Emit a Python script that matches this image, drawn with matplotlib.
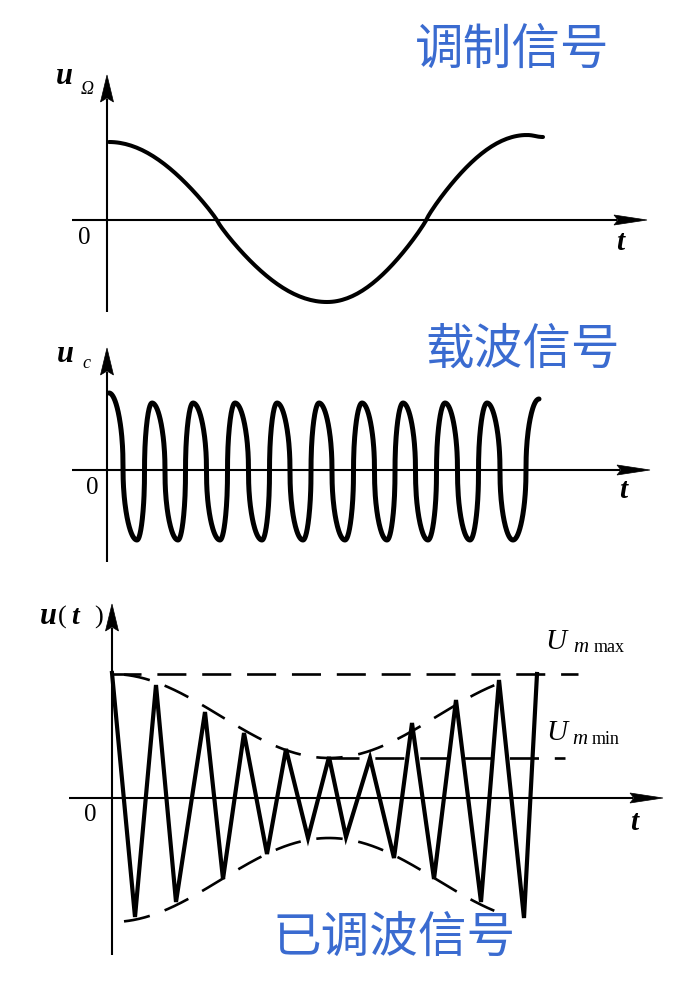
import numpy as np
import matplotlib
matplotlib.use('Agg')
import matplotlib.pyplot as plt
from matplotlib.patches import Polygon

W, H = 688, 993

# ---------------- data ----------------
# Panel 1: modulating signal, extrema (time, amplitude)
mod_t = [2, 220, 420, 436]
mod_v = [78, -82, 85, 83]

# Panel 2: carrier, extrema (time, amplitude)
car_t = [2, 30, 45, 71, 86, 113, 128, 155, 170, 196, 212, 238, 255, 280,
         296, 321, 338, 363, 380, 406, 432]
car_v = [77, -70, 67, -70, 67, -70, 67, -70, 67, -70, 67, -70, 67, -70,
         67, -70, 67, -70, 67, -70, 71]

# Panel 3: AM wave vertices (time, amplitude)
am_t = [0, 23, 44, 64, 93, 111, 132, 155, 174, 196, 217, 234, 258, 282,
        300, 322, 344, 369, 387, 412, 425]
am_v = [125, -119, 113, -104, 86, -81, 65, -56, 49, -40, 41, -39, 40, -60,
        75, -81, 98, -104, 118, -120, 124]

Um_max = 124
Um_min = 40
env_period = 434          # envelope (modulation) period
env_span = (12, 390)      # visible extent of dashed envelope
umax_span = (0, 466)
umin_span = (218, 453)

titles = ["调制信号", "载波信号", "已调波信号"]
blue = '#3a6bd0'

# ---------------- helpers ----------------
fig = plt.figure(figsize=(W / 100, H / 100), dpi=100)


def panel(x0, y0):
    ax = fig.add_axes([0, 0, 1, 1])
    ax.set_xlim(-x0, W - x0)
    ax.set_ylim(-(H - y0), y0)
    ax.axis('off')
    ax.patch.set_alpha(0)
    return ax


def smooth_path(ts, vs, p, n=80):
    xs, ys = [], []
    for i in range(len(ts) - 1):
        s = np.linspace(0, 1, n)
        c = np.cos(np.pi * s)
        g = np.sign(c) * np.abs(c) ** p
        mid = (vs[i] + vs[i + 1]) / 2
        half = (vs[i] - vs[i + 1]) / 2
        xs.append(ts[i] + (ts[i + 1] - ts[i]) * s)
        ys.append(mid + half * g)
    return np.concatenate(xs), np.concatenate(ys)


def axes_arrows(ax, xl, xr, yb, yt, hlx=33, hwx=10, hly=27, hwy=13, lw=1.5):
    ax.plot([xl, xr - hlx + 3], [0, 0], color='k', lw=lw, solid_capstyle='butt')
    ax.add_patch(Polygon([[xr, 0], [xr - hlx, hwx / 2], [xr - hlx + 4, 0],
                          [xr - hlx, -hwx / 2]], closed=True, fc='k', ec='k', lw=0.5))
    ax.plot([0, 0], [yb, yt - hly + 3], color='k', lw=lw, solid_capstyle='butt')
    ax.add_patch(Polygon([[0, yt], [-hwy / 2, yt - hly], [0, yt - hly + 4],
                          [hwy / 2, yt - hly]], closed=True, fc='k', ec='k', lw=0.5))


serif = 'Liberation Serif'
cjk = ['Noto Sans CJK SC', 'DejaVu Sans']


def lab(ax, x, y, s, size, bold=False, italic=True, **kw):
    ax.text(x, y, s, fontsize=size, family=serif,
            style='italic' if italic else 'normal',
            weight='bold' if bold else 'normal',
            ha='center', va='center', **kw)


# ---------------- Panel 1: modulating signal ----------------
ax1 = panel(107, 220)
axes_arrows(ax1, -35, 540, -92, 145)
x, y = smooth_path(mod_t, mod_v, 0.9)
ax1.plot(x, y, color='k', lw=2.9, solid_capstyle='round')
lab(ax1, -43, 143, 'u', 22, bold=True)
lab(ax1, -20, 131, 'Ω', 13)
lab(ax1, -23, -18, '0', 18, italic=False)
lab(ax1, 513, -22, 't', 21, bold=True)
ax1.text(405, 170, titles[0], fontsize=35, family=cjk, color=blue,
         ha='center', va='center')

# ---------------- Panel 2: carrier ----------------
ax2 = panel(107, 470)
axes_arrows(ax2, -35, 543, -92, 122)
x, y = smooth_path(car_t, car_v, 0.45)
ax2.plot(x, y, color='k', lw=3.6, solid_capstyle='round')
lab(ax2, -42, 115, 'u', 22, bold=True)
lab(ax2, -21, 107, 'c', 13)
lab(ax2, -15, -18, '0', 18, italic=False)
lab(ax2, 516, -20, 't', 21, bold=True)
ax2.text(416, 120, titles[1], fontsize=35, family=cjk, color=blue,
         ha='center', va='center')

# ---------------- Panel 3: AM wave ----------------
ax3 = panel(112, 798)
axes_arrows(ax3, -43, 551, -157, 194)
ax3.plot(am_t, am_v, color='k', lw=3.0, solid_joinstyle='miter')

te = np.linspace(env_span[0], env_span[1], 400)
env = Um_min + (Um_max - Um_min) * (1 + np.cos(2 * np.pi * te / env_period)) / 2
ax3.plot(te, env, color='k', lw=1.9, dashes=(10, 6))
ax3.plot(te, -env, color='k', lw=1.9, dashes=(10, 6))
ax3.plot(umax_span, [Um_max, Um_max], color='k', lw=1.9, dashes=(11, 6))
ax3.plot(umin_span, [Um_min, Um_min], color='k', lw=1.9, dashes=(11, 6))

lab(ax3, -64, 181, 'u', 22, bold=True)
lab(ax3, -50, 181, '(', 19, italic=False)
lab(ax3, -37, 180, 't', 20, bold=True)
lab(ax3, -13, 181, ')', 19, italic=False)
lab(ax3, -22, -17, '0', 18, italic=False)
lab(ax3, 522, -24, 't', 21, bold=True)
lab(ax3, 444, 156, 'U', 21)
lab(ax3, 469, 151, 'm', 15)
lab(ax3, 497, 150, 'max', 13, italic=False)
lab(ax3, 445, 65, 'U', 21)
lab(ax3, 468, 59, 'm', 15)
lab(ax3, 494, 58, 'min', 13, italic=False)
ax3.text(282, -140, titles[2], fontsize=35, family=cjk, color=blue,
         ha='center', va='center')

fig.savefig('out.png', dpi=100)
